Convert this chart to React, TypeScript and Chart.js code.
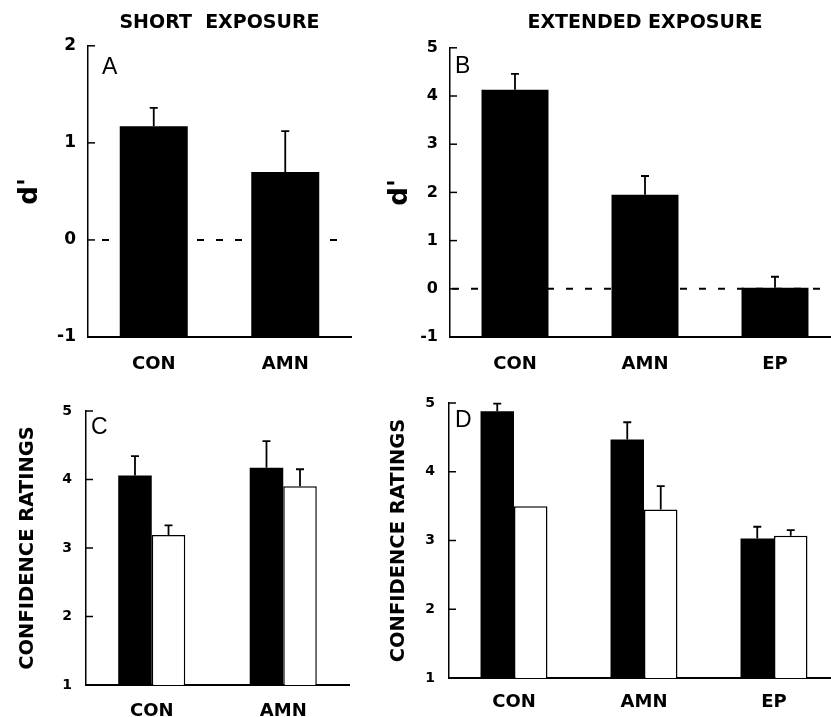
import React, { useEffect, useRef } from 'react';
import { Chart, registerables } from 'chart.js';

Chart.register(...registerables);

// ---------- data ----------
const shortCategories = ['CON', 'AMN'];
const extendedCategories = ['CON', 'AMN', 'EP'];

const shortDPrime = [1.17, 0.7];
const shortDPrimeErr = [0.19, 0.42];

const extendedDPrime = [4.13, 1.95, 0.02];
const extendedDPrimeErr = [0.33, 0.39, 0.23];

const shortConfFilled = [4.06, 4.17];
const shortConfFilledErr = [0.28, 0.39];
const shortConfOpen = [3.19, 3.9];
const shortConfOpenErr = [0.14, 0.25];

const extendedConfFilled = [4.88, 4.47, 3.03];
const extendedConfFilledErr = [0.11, 0.25, 0.17];
const extendedConfOpen = [3.5, 3.45, 3.07];
const extendedConfOpenErr = [0, 0.34, 0.08];

const shortTitle = 'SHORT  EXPOSURE';
const extendedTitle = 'EXTENDED EXPOSURE';
const dPrimeLabel = "d'";
const confLabel = 'CONFIDENCE RATINGS';

// ---------- styling ----------
const AXIS_FONT = "'DejaVu Sans', 'Liberation Sans', sans-serif";
const LETTER_FONT = "'Liberation Sans', Arial, sans-serif";

const decorPlugin = {
  id: 'decor',
  beforeDatasetsDraw(chart: any, _args: any, opts: any) {
    if (!opts.zeroLine) return;
    const { ctx, chartArea } = chart;
    const ys = chart.scales.y;
    const py = ys.getPixelForValue(0);
    ctx.save();
    ctx.strokeStyle = '#000';
    ctx.lineWidth = 2;
    ctx.setLineDash([7, 12]);
    ctx.beginPath();
    ctx.moveTo(chartArea.left + opts.zeroStart, py);
    ctx.lineTo(chartArea.right - opts.zeroEnd, py);
    ctx.stroke();
    ctx.restore();
  },
  afterDatasetsDraw(chart: any, _args: any, opts: any) {
    const { ctx, chartArea } = chart;
    const ys = chart.scales.y;
    ctx.save();
    ctx.strokeStyle = '#000';
    ctx.lineWidth = 1.5;
    ys.ticks.forEach((t: any) => {
      const py = ys.getPixelForValue(t.value);
      ctx.beginPath();
      ctx.moveTo(chartArea.left, py);
      ctx.lineTo(chartArea.left + opts.tickLen, py);
      ctx.stroke();
    });
    chart.data.datasets.forEach((ds: any, i: number) => {
      const errs = ds.errors;
      if (!errs) return;
      const meta = chart.getDatasetMeta(i);
      meta.data.forEach((el: any, j: number) => {
        const e = errs[j];
        if (!e) return;
        const v = ds.data[j];
        const x = el.x;
        const y0 = ys.getPixelForValue(v);
        const y1 = ys.getPixelForValue(v + e);
        ctx.lineWidth = 1.8;
        ctx.beginPath();
        ctx.moveTo(x, y0);
        ctx.lineTo(x, y1);
        ctx.moveTo(x - opts.cap, y1);
        ctx.lineTo(x + opts.cap, y1);
        ctx.stroke();
      });
    });
    ctx.fillStyle = '#000';
    ctx.font = `${opts.letterSize}px ${LETTER_FONT}`;
    ctx.textBaseline = 'top';
    ctx.textAlign = 'left';
    ctx.fillText(opts.letter, chartArea.left + opts.letterDx, chartArea.top + opts.letterDy);
    ctx.restore();
  },
};

function makeConfig(p: any) {
  return {
    type: 'bar',
    data: { labels: p.labels, datasets: p.datasets },
    plugins: [decorPlugin],
    options: {
      responsive: false,
      animation: false,
      layout: { padding: { left: 0, right: p.padRight, top: p.padTop, bottom: 0 } },
      plugins: {
        legend: { display: false },
        tooltip: { enabled: false },
        title: p.title
          ? {
              display: true,
              text: p.title,
              fullSize: false,
              color: '#000',
              font: { family: AXIS_FONT, size: 19, weight: 'bold' },
              padding: { top: p.titleTop, bottom: p.titleBottom },
            }
          : { display: false },
        decor: p.decor,
      },
      scales: {
        x: {
          grid: { display: false, drawTicks: false },
          border: { display: true, color: '#000', width: 2 },
          ticks: {
            color: '#000',
            font: { family: AXIS_FONT, size: 18, weight: 'bold' },
            padding: p.xPad,
            maxRotation: 0,
          },
          afterFit: (s: any) => {
            s.height = p.xHeight;
          },
        },
        y: {
          min: p.yMin,
          max: p.yMax,
          grid: { display: false, drawTicks: false },
          border: { display: true, color: '#000', width: 1.5 },
          ticks: {
            stepSize: 1,
            color: '#000',
            font: { family: AXIS_FONT, size: p.yTickSize, weight: 'bold' },
            padding: p.yPad,
          },
          title: {
            display: true,
            text: p.yTitle,
            color: '#000',
            font: { family: AXIS_FONT, size: p.yTitleSize, weight: 'bold' },
            padding: { top: p.yTitlePad, bottom: 0 },
          },
          afterFit: (s: any) => {
            s.width = p.yWidth;
          },
        },
      },
    },
  };
}

const configA = makeConfig({
  labels: shortCategories,
  datasets: [
    { data: shortDPrime, errors: shortDPrimeErr, backgroundColor: '#000', base: -1, barPercentage: 0.517, categoryPercentage: 1 },
  ],
  padRight: 14, padTop: 0, title: shortTitle, titleTop: 12, titleBottom: 11,
  xPad: 17, xHeight: 41, yMin: -1, yMax: 2, yTickSize: 17, yPad: 12,
  yTitle: dPrimeLabel, yTitleSize: 26, yTitlePad: 15, yWidth: 88,
  decor: { zeroLine: true, zeroStart: 14, zeroEnd: 8, tickLen: 7, cap: 4, letter: 'A', letterSize: 23, letterDx: 14, letterDy: 10 },
});

const configB = makeConfig({
  labels: extendedCategories,
  datasets: [
    { data: extendedDPrime, errors: extendedDPrimeErr, backgroundColor: '#000', base: -1, barPercentage: 0.515, categoryPercentage: 1 },
  ],
  padRight: 5, padTop: 0, title: extendedTitle, titleTop: 12, titleBottom: 13,
  xPad: 17, xHeight: 41, yMin: -1, yMax: 5, yTickSize: 16, yPad: 12,
  yTitle: dPrimeLabel, yTitleSize: 26, yTitlePad: 15, yWidth: 80,
  decor: { zeroLine: true, zeroStart: 2, zeroEnd: 0, tickLen: 7, cap: 4, letter: 'B', letterSize: 23, letterDx: 5, letterDy: 7 },
});

const configC = makeConfig({
  labels: shortCategories,
  datasets: [
    { data: shortConfFilled, errors: shortConfFilledErr, backgroundColor: '#000', base: 1, barPercentage: 1, categoryPercentage: 0.51 },
    { data: shortConfOpen, errors: shortConfOpenErr, backgroundColor: '#fff', borderColor: '#000', borderWidth: 1.5, base: 1, barPercentage: 1, categoryPercentage: 0.51 },
  ],
  padRight: 16, padTop: 36, title: null,
  xPad: 16, xHeight: 32, yMin: 1, yMax: 5, yTickSize: 14, yPad: 14,
  yTitle: confLabel, yTitleSize: 19.5, yTitlePad: 16, yWidth: 86,
  decor: { zeroLine: false, tickLen: 7, cap: 4, letter: 'C', letterSize: 23, letterDx: 5, letterDy: 5 },
});

const configD = makeConfig({
  labels: extendedCategories,
  datasets: [
    { data: extendedConfFilled, errors: extendedConfFilledErr, backgroundColor: '#000', base: 1, barPercentage: 1, categoryPercentage: 0.515 },
    { data: extendedConfOpen, errors: extendedConfOpenErr, backgroundColor: '#fff', borderColor: '#000', borderWidth: 1.5, base: 1, barPercentage: 1, categoryPercentage: 0.515 },
  ],
  padRight: 6, padTop: 28, title: null,
  xPad: 14, xHeight: 39, yMin: 1, yMax: 5, yTickSize: 14, yPad: 14,
  yTitle: confLabel, yTitleSize: 19.5, yTitlePad: 17, yWidth: 79,
  decor: { zeroLine: false, tickLen: 7, cap: 4, letter: 'D', letterSize: 23, letterDx: 6, letterDy: 6 },
});

function Panel({ left, top, width, height, config }: any) {
  const ref = useRef<HTMLCanvasElement>(null);
  useEffect(() => {
    const chart = new Chart(ref.current as HTMLCanvasElement, config);
    return () => chart.destroy();
  }, [config]);
  return (
    <canvas
      ref={ref}
      width={width}
      height={height}
      style={{ position: 'absolute', left, top, width, height }}
    />
  );
}

export default function App() {
  return (
    <div
      style={{
        position: 'absolute',
        left: 0,
        top: 0,
        width: 831,
        height: 717,
        overflow: 'hidden',
        background: '#fff',
      }}
    >
      <Panel left={0} top={0} width={365} height={378} config={configA} />
      <Panel left={370} top={0} width={475} height={378} config={configB} />
      <Panel left={0} top={375} width={365} height={342} config={configC} />
      <Panel left={370} top={375} width={475} height={342} config={configD} />
    </div>
  );
}
